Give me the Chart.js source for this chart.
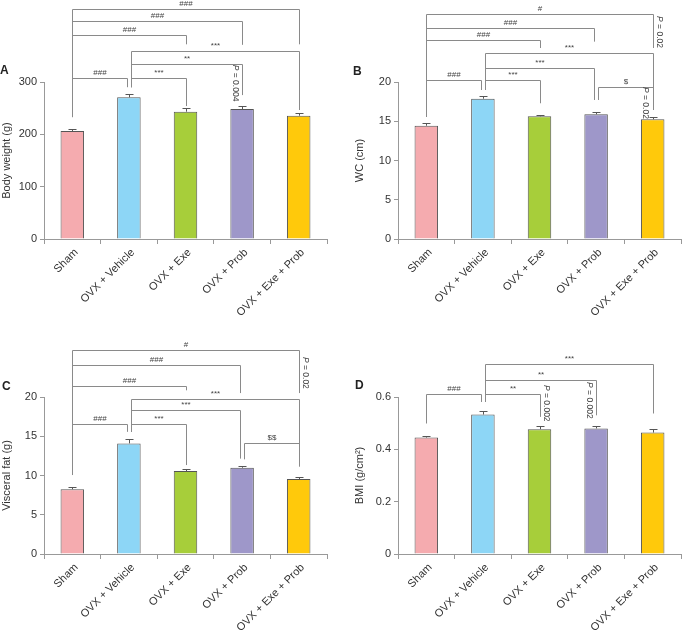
<!DOCTYPE html>
<html><head><meta charset="utf-8">
<script src="https://cdn.jsdelivr.net/npm/chart.js@4/dist/chart.umd.min.js"></script>
<style>
html,body{margin:0;padding:0;background:#fff;width:682px;height:632px;overflow:hidden}
.p{position:absolute;width:341px;height:316px}
canvas{display:block}
</style></head><body>
<div class="p" style="left:0;top:0"><canvas id="cA" width="341" height="316"></canvas></div>
<div class="p" style="left:341px;top:0"><canvas id="cB" width="341" height="316"></canvas></div>
<div class="p" style="left:0;top:315px"><canvas id="cC" width="341" height="316"></canvas></div>
<div class="p" style="left:341px;top:315px"><canvas id="cD" width="341" height="316"></canvas></div>
<script>
// ---- data ----
const categories = ['Sham', 'OVX + Vehicle', 'OVX + Exe', 'OVX + Prob', 'OVX + Exe + Prob'];

const bodyWeight    = [206.4, 270.8, 243.3, 248.4, 235.6];
const bodyWeightSem = [3.8, 5.7, 7.7, 6.3, 5.8];
const weightTicks   = [0, 100, 200, 300];
const weightTickLabels = ['0', '100', '200', '300'];

const waist    = [14.43, 17.87, 15.63, 15.89, 15.25];
const waistSem = [0.31, 0.39, 0.21, 0.29, 0.33];
const waistTicks = [0, 5, 10, 15, 20];
const waistTickLabels = ['0', '5', '10', '15', '20'];

const visceralFat    = [8.25, 14.09, 10.57, 10.99, 9.55];
const visceralFatSem = [0.33, 0.58, 0.22, 0.25, 0.22];
const fatTicks = [0, 5, 10, 15, 20];
const fatTickLabels = ['0', '5', '10', '15', '20'];

const bmi    = [0.445, 0.533, 0.477, 0.480, 0.464];
const bmiSem = [0.006, 0.012, 0.014, 0.011, 0.012];
const bmiTicks = [0, 0.2, 0.4, 0.6];
const bmiTickLabels = ['0', '0.2', '0.4', '0.6'];

// significance brackets: [fromIndex, toIndex, topValue, fromLegEndValue, toLegEndValue, label]
const weightBrackets = [
  [0, 1, 307.6, 233, 290, '###'],
  [1, 2, 307.6, 290, 254, '***'],
  [1, 3, 334, 290, 275, '**'],
  [1, 4, 359, 290, 246.5, '***'],
  [0, 2, 390, 233, 372, '###'],
  [0, 3, 416, 233, 371, '###'],
  [0, 4, 439, 233, 372, '###']
];
const waistBrackets = [
  [0, 1, 20.25, 15.58, 18.98, '###'],
  [1, 2, 20.25, 18.98, 17.29, '***'],
  [1, 3, 21.75, 18.98, 17.71, '***'],
  [1, 4, 23.66, 18.98, 16.69, '***'],
  [3, 4, 19.33, 17.71, 16.43, '$'],
  [0, 2, 25.35, 15.58, 24.33, '###'],
  [0, 3, 26.84, 15.58, 25.14, '###'],
  [0, 4, 28.66, 15.58, 24.33, '#']
];
const fatBrackets = [
  [0, 1, 16.54, 10.06, 15.56, '###'],
  [1, 2, 16.54, 15.56, 11.33, '***'],
  [1, 3, 18.4, 15.56, 12.15, '***'],
  [1, 4, 19.71, 15.56, 12.39, '***'],
  [3, 4, 14.09, 12.06, 11.12, '$$'],
  [0, 2, 21.4, 10.06, 20.85, '###'],
  [0, 3, 24.1, 10.06, 20.5, '###'],
  [0, 4, 26.05, 10.06, 20.5, '#']
];
const bmiBrackets = [
  [0, 1, 0.613, 0.4987, 0.581, '###'],
  [1, 2, 0.613, 0.581, 0.524, '**'],
  [1, 3, 0.666, 0.581, 0.530, '**'],
  [1, 4, 0.725, 0.581, 0.537, '***']
];
// P-value notes: [barIndex, side (-1 left / +1 right), centerValue, text]
const weightNotes = [[3, -1, 298, '0.004']];
const waistNotes  = [[4, -1, 17.33, '0.02'], [4, 1, 26.37, '0.02']];
const fatNotes    = [[4, 1, 23.07, '0.02']];
const bmiNotes    = [[2, 1, 0.576, '0.002'], [3, -1, 0.587, '0.002']];

// ---- styles ----
const barColors = ['#F5ABAF', '#8DD6F6', '#A7CE3A', '#9E97C9', '#FFC90B'];
const FONT = "'Liberation Sans', Arial, Helvetica, sans-serif";
Chart.defaults.font.family = FONT;

const annotPlugin = {
  id: 'annot',
  afterDatasetsDraw(chart, args, opts) {
    const ctx = chart.ctx, xs = chart.scales.x, ys = chart.scales.y;
    const vals = chart.data.datasets[0].data;
    ctx.save();
    // error bars
    ctx.strokeStyle = '#555'; ctx.lineWidth = 1;
    vals.forEach((v, i) => {
      const x = Math.round(xs.getPixelForValue(i)) + 0.5;
      const y0 = ys.getPixelForValue(v), y1 = Math.round(ys.getPixelForValue(v + opts.sem[i])) + 0.5;
      ctx.beginPath();
      ctx.moveTo(x, y0); ctx.lineTo(x, y1);
      ctx.moveTo(x - 4, y1); ctx.lineTo(x + 4, y1);
      ctx.stroke();
    });
    // brackets
    const froms = new Set(opts.brackets.map(b => b[0]));
    const tos = new Set(opts.brackets.map(b => b[1]));
    const shift = (i, isFrom) => (froms.has(i) && tos.has(i)) ? (isFrom ? 2 : -2) : 0;
    ctx.strokeStyle = '#8a8a8a';
    ctx.fillStyle = '#444';
    ctx.font = '8px ' + FONT;
    ctx.textAlign = 'center'; ctx.textBaseline = 'bottom';
    opts.brackets.forEach(([a, b, top, la, lb, label]) => {
      const xa = Math.round(xs.getPixelForValue(a) + shift(a, true)) + 0.5;
      const xb = Math.round(xs.getPixelForValue(b) + shift(b, false)) + 0.5;
      const yt = Math.round(ys.getPixelForValue(top)) + 0.5;
      ctx.beginPath();
      ctx.moveTo(xa, ys.getPixelForValue(la)); ctx.lineTo(xa, yt);
      ctx.lineTo(xb, yt); ctx.lineTo(xb, ys.getPixelForValue(lb));
      ctx.stroke();
      ctx.fillText(label, (xa + xb) / 2, yt - 1.5);
    });
    // P notes (rotated)
    opts.notes.forEach(([i, side, v, txt]) => {
      const x = xs.getPixelForValue(i) + side * 7;
      const y = ys.getPixelForValue(v);
      ctx.save();
      ctx.translate(x, y); ctx.rotate(Math.PI / 2);
      const f1 = 'italic 8.5px ' + FONT, f2 = '8.5px ' + FONT;
      ctx.font = f1; const w1 = ctx.measureText('P').width;
      ctx.font = f2; const rest = ' = ' + txt; const w2 = ctx.measureText(rest).width;
      const start = -(w1 + w2) / 2;
      ctx.textAlign = 'left'; ctx.textBaseline = 'middle';
      ctx.font = f1; ctx.fillText('P', start, 0);
      ctx.font = f2; ctx.fillText(rest, start + w1, 0);
      ctx.restore();
    });
    // panel letter
    ctx.fillStyle = '#222';
    ctx.font = 'bold 12px ' + FONT;
    ctx.textAlign = 'left'; ctx.textBaseline = 'alphabetic';
    ctx.fillText(opts.letter, opts.letterX, opts.letterY);
    ctx.restore();
  }
};

function makeChart(id, values, sem, ticks, tickLabels, title, titlePad, axisWidth, brackets, notes, letter, letterX, letterY) {
  return new Chart(document.getElementById(id), {
    type: 'bar',
    data: {
      labels: categories,
      datasets: [{
        data: values,
        backgroundColor: barColors,
        borderColor: '#555',
        borderWidth: 1,
        barPercentage: 0.415,
        categoryPercentage: 1
      }]
    },
    options: {
      responsive: false,
      animation: false,
      devicePixelRatio: 1,
      layout: { padding: { left: 0, top: 82, right: 341 - axisWidth - 283, bottom: 0 } },
      plugins: {
        legend: { display: false },
        tooltip: { enabled: false },
        annot: { sem, brackets, notes, letter, letterX, letterY }
      },
      scales: {
        x: {
          grid: { display: true, drawOnChartArea: false, drawTicks: true, tickLength: 5, color: '#999', offset: true },
          border: { color: '#999', width: 1 },
          ticks: { minRotation: 45, maxRotation: 45, autoSkip: false, color: '#333', font: { size: 11 }, padding: 2, labelOffset: 4 },
          afterFit(s) { s.height = 77; }
        },
        y: {
          min: 0,
          max: ticks[ticks.length - 1],
          afterBuildTicks(s) { s.ticks = ticks.map(v => ({ value: v })); },
          grid: { drawOnChartArea: false, drawTicks: true, tickLength: 4, color: '#999' },
          border: { color: '#999', width: 1 },
          ticks: { color: '#333', font: { size: 11 }, padding: 3, callback: (v, i) => tickLabels[i] },
          title: { display: true, text: title, color: '#333', font: { size: 11 }, padding: { top: titlePad, bottom: 0 } },
          afterFit(s) { s.width = axisWidth; }
        }
      }
    },
    plugins: [annotPlugin]
  });
}

makeChart('cA', bodyWeight, bodyWeightSem, weightTicks, weightTickLabels, 'Body weight (g)', 0, 44, weightBrackets, weightNotes, 'A', 0, 74);
makeChart('cB', waist, waistSem, waistTicks, waistTickLabels, 'WC (cm)', 12, 57, waistBrackets, waistNotes, 'B', 12, 75);
makeChart('cC', visceralFat, visceralFatSem, fatTicks, fatTickLabels, 'Visceral fat (g)', 0, 44, fatBrackets, fatNotes, 'C', 2, 75);
makeChart('cD', bmi, bmiSem, bmiTicks, bmiTickLabels, 'BMI (g/cm\u00B2)', 12, 57, bmiBrackets, bmiNotes, 'D', 14, 74);
</script>
</body></html>
